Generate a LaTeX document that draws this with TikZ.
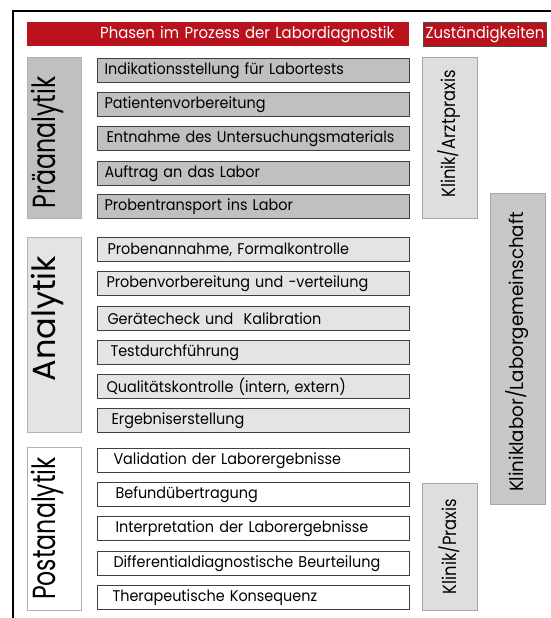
\documentclass[tikz,border=0pt]{standalone}
\usepackage{fontspec}
\setmainfont{Poppins}[FakeStretch=0.93]
\newfontfamily\phasefont{Poppins}[FakeStretch=0.74]
\newfontfamily\anafont{Poppins}[FakeStretch=1.0]
\newfontfamily\respfont{Poppins}[FakeStretch=0.86]
\newfontfamily\labfont{Poppins}[FakeStretch=0.96]

\definecolor{labred}{RGB}{185,18,28}
\definecolor{stepgrey}{RGB}{192,192,192}
\definecolor{labgrey}{RGB}{200,200,200}
\definecolor{lightgrey}{RGB}{228,228,228}
\definecolor{respgrey}{RGB}{222,222,222}

\tikzset{
	box/.style={rectangle, inner sep=0pt, anchor=north west},
	headbox/.style={box, fill=labred, text=white, minimum height=24pt, font=\fontsize{16}{18}\selectfont},
	stepbox/.style={box, draw=black!75, line width=1pt, minimum height=24pt, text width=298pt, inner xsep=7pt, align=left, font=\fontsize{15.5}{17}\selectfont},
	phasebox/.style={rectangle, draw=black!30, line width=1pt, inner sep=0pt, minimum height=54pt, rotate=90, text depth=22pt, font=\phasefont\fontsize{32}{34}\selectfont},
	respbox/.style={rectangle, draw=black!35, line width=1pt, fill=respgrey, inner sep=0pt, minimum height=55pt, rotate=90, font=\respfont\fontsize{19}{21}\selectfont}
}

\begin{document}
\begin{tikzpicture}[x=1pt,y=-1pt]
	\useasboundingbox[fill=white] (0,0) rectangle (551,618);
	\draw[line width=2pt] (13,618) -- (13,11) -- (551,11);

	\node (title) [headbox, text width=382pt, align=left] at (27,22) {\hspace*{73pt}Phasen im Prozess der Labordiagnostik};
	\node (duty) [headbox, draw=black!70, line width=1pt, minimum width=123pt] at (423,22) {Zuständigkeiten};

	\node (pre) [phasebox, fill=stepgrey, minimum width=160pt] at (54,138) {Präanalytik\hspace*{9pt}};
	\node (ana) [phasebox, fill=lightgrey, minimum width=195pt, font=\anafont\fontsize{32}{34}\selectfont] at (54,334.5) {\hspace*{32pt}Analytik};
	\node (post) [phasebox, fill=white, minimum width=163pt] at (54,528.5) {Postanalytik};

	\node (pre1) [stepbox, fill=stepgrey] at (97,58) {Indikationsstellung für Labortests};
	\node (pre2) [stepbox, fill=stepgrey] at (97,92) {Patientenvorbereitung};
	\node (pre3) [stepbox, fill=stepgrey] at (97,126) {\hspace*{2pt}Entnahme des Untersuchungsmaterials};
	\node (pre4) [stepbox, fill=stepgrey] at (97,161) {Auftrag an das Labor};
	\node (pre5) [stepbox, fill=stepgrey] at (97,194) {Probentransport ins Labor};

	\node (ana1) [stepbox, fill=lightgrey] at (97,237) {\hspace*{3pt}Probenannahme, Formalkontrolle};
	\node (ana2) [stepbox, fill=lightgrey] at (97,271) {\hspace*{2pt}Probenvorbereitung und -verteilung};
	\node (ana3) [stepbox, fill=lightgrey] at (97,306) {\hspace*{3pt}Gerätecheck und\ \ Kalibration};
	\node (ana4) [stepbox, fill=lightgrey] at (97,340) {\hspace*{6pt}Testdurchführung};
	\node (ana5) [stepbox, fill=lightgrey] at (97,374) {\hspace*{2pt}Qualitätskontrolle (intern, extern)};
	\node (ana6) [stepbox, fill=lightgrey] at (97,408) {\hspace*{7pt}Ergebniserstellung};

	\node (post1) [stepbox, fill=white] at (97,448) {\hspace*{9pt}Validation der Laborergebnisse};
	\node (post2) [stepbox, fill=white] at (97,482) {\hspace*{11pt}Befundübertragung};
	\node (post3) [stepbox, fill=white] at (97,516) {\hspace*{11pt}Interpretation der Laborergebnisse};
	\node (post4) [stepbox, fill=white] at (97,551) {\hspace*{9pt}Differentialdiagnostische Beurteilung};
	\node (post5) [stepbox, fill=white] at (97,585) {\hspace*{8pt}Therapeutische Konsequenz};

	\node (doctor) [respbox, minimum width=160pt] at (449.5,138) {\hspace*{8pt}Klinik/Arztpraxis};
	\node (lab) [respbox, fill=labgrey, minimum width=311pt, font=\labfont\fontsize{19}{21}\selectfont] at (517.5,348.5) {Kliniklabor/Laborgemeinschaft\hspace*{7pt}};
	\node (clinic) [respbox, minimum width=127pt] at (449.5,546.5) {Klinik/Praxis};
\end{tikzpicture}
\end{document}
